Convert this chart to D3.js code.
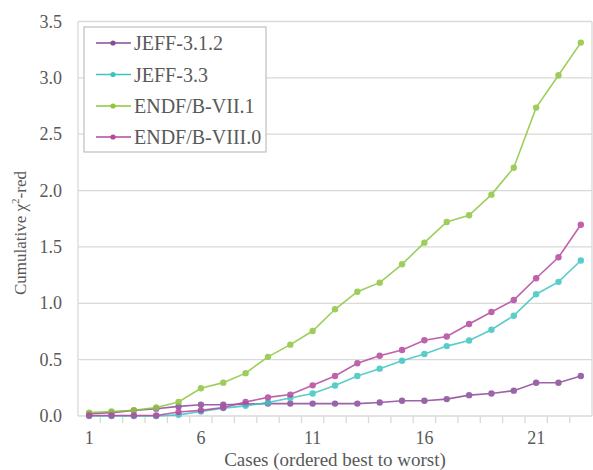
<!DOCTYPE html>
<html><head><meta charset="utf-8">
<script src="https://cdn.jsdelivr.net/npm/d3@7/dist/d3.min.js"></script>
<style>body{margin:0;background:#fff}svg{display:block}text{font-family:"Liberation Serif","Times New Roman",serif;fill:#595959}</style>
</head><body>
<script>
const cases = d3.range(1, 24);
const xTickLabels = [1, 6, 11, 16, 21];
const yTicks = [0, 0.5, 1.0, 1.5, 2.0, 2.5, 3.0, 3.5];
const seriesNames = ["JEFF-3.1.2", "JEFF-3.3", "ENDF/B-VII.1", "ENDF/B-VIII.0"];
const seriesColors = ["#8a4a9a", "#3ec4c0", "#8dc63f", "#b4479f"];
const jeff312 = [0.02,0.03,0.05,0.065,0.085,0.10,0.10,0.105,0.11,0.11,0.11,0.11,0.11,0.12,0.135,0.135,0.15,0.185,0.20,0.225,0.295,0.295,0.355];
const jeff33 = [0.0,0.0,0.0,0.0,0.01,0.04,0.07,0.09,0.12,0.16,0.20,0.27,0.355,0.42,0.49,0.55,0.62,0.67,0.765,0.89,1.08,1.19,1.38];
const endf71 = [0.03,0.04,0.05,0.076,0.125,0.246,0.296,0.38,0.525,0.633,0.754,0.947,1.103,1.183,1.346,1.538,1.721,1.781,1.964,2.203,2.736,3.023,3.313];
const endf80 = [0.005,0.005,0.005,0.005,0.035,0.05,0.075,0.125,0.165,0.19,0.272,0.355,0.468,0.535,0.586,0.672,0.705,0.816,0.923,1.029,1.222,1.408,1.697];
const seriesValues = [jeff312, jeff33, endf71, endf80];

const W = 593, H = 470;
const svg = d3.select("body").append("svg").attr("width", W).attr("height", H);
const x = d3.scaleBand().domain(cases).range([78, 592]);
const y = d3.scaleLinear().domain([0, 3.5]).range([416, 21.5]);
const cx = d => x(d) + x.bandwidth() / 2;

// gridlines
svg.append("g").selectAll("line").data(yTicks).join("line")
  .attr("x1", 78).attr("x2", 592).attr("y1", d => y(d)).attr("y2", d => y(d))
  .attr("stroke", "#d9d9d9").attr("stroke-width", 1.3);
svg.append("line").attr("x1", 592).attr("x2", 592).attr("y1", y(3.5)).attr("y2", y(0)).attr("stroke", "#d9d9d9").attr("stroke-width", 1.3);
svg.append("line").attr("x1", 78).attr("x2", 78).attr("y1", y(3.5)).attr("y2", y(0)).attr("stroke", "#d9d9d9").attr("stroke-width", 1.3);

// y axis labels
svg.append("g").selectAll("text").data(yTicks).join("text")
  .attr("x", 62).attr("y", d => y(d) + 6).attr("text-anchor", "end")
  .attr("font-size", 18).text(d => d.toFixed(1));

// x axis ticks between categories
svg.append("g").selectAll("line").data(cases.slice(1)).join("line")
  .attr("x1", d => x(d)).attr("x2", d => x(d)).attr("y1", y(0)).attr("y2", y(0) + 7)
  .attr("stroke", "#d9d9d9").attr("stroke-width", 1.3);
svg.append("g").selectAll("text").data(xTickLabels).join("text")
  .attr("x", d => cx(d)).attr("y", 444).attr("text-anchor", "middle")
  .attr("font-size", 18).text(d => d);

// axis titles
svg.append("text").attr("x", 335).attr("y", 466).attr("text-anchor", "middle")
  .attr("font-size", 19).text("Cases (ordered best to worst)");
const yt = svg.append("text").attr("transform", "translate(26,233) rotate(-90)")
  .attr("text-anchor", "middle").attr("font-size", 17);
yt.append("tspan").text("Cumulative \u03c7");
yt.append("tspan").attr("font-size", 11).attr("dy", -7).text("2");
yt.append("tspan").attr("dy", 7).text("-red");

// series
const line = d3.line().x((d, i) => cx(cases[i])).y(d => y(d));
seriesValues.forEach((vals, si) => {
  const g = svg.append("g").attr("opacity", 0.85);
  g.append("path").attr("d", line(vals)).attr("fill", "none")
    .attr("stroke", seriesColors[si]).attr("stroke-width", 1.6);
  g.selectAll("circle").data(vals).join("circle")
    .attr("cx", (d, i) => cx(cases[i])).attr("cy", d => y(d)).attr("r", 3.2)
    .attr("fill", seriesColors[si]);
});

// legend
const lg = svg.append("g");
lg.append("rect").attr("x", 84).attr("y", 27).attr("width", 182).attr("height", 125)
  .attr("fill", "#fff").attr("stroke", "#bfbfbf").attr("stroke-width", 1.2);
const ly = [43, 74.5, 106, 137];
seriesNames.forEach((n, i) => {
  lg.append("line").attr("x1", 96).attr("x2", 131).attr("y1", ly[i]).attr("y2", ly[i])
    .attr("stroke", seriesColors[i]).attr("stroke-width", 1.6);
  lg.append("circle").attr("cx", 113).attr("cy", ly[i]).attr("r", 2.6).attr("fill", seriesColors[i]);
  lg.append("text").attr("x", 134).attr("y", ly[i] + 7).attr("font-size", 20).text(n);
});
</script>
</body></html>
